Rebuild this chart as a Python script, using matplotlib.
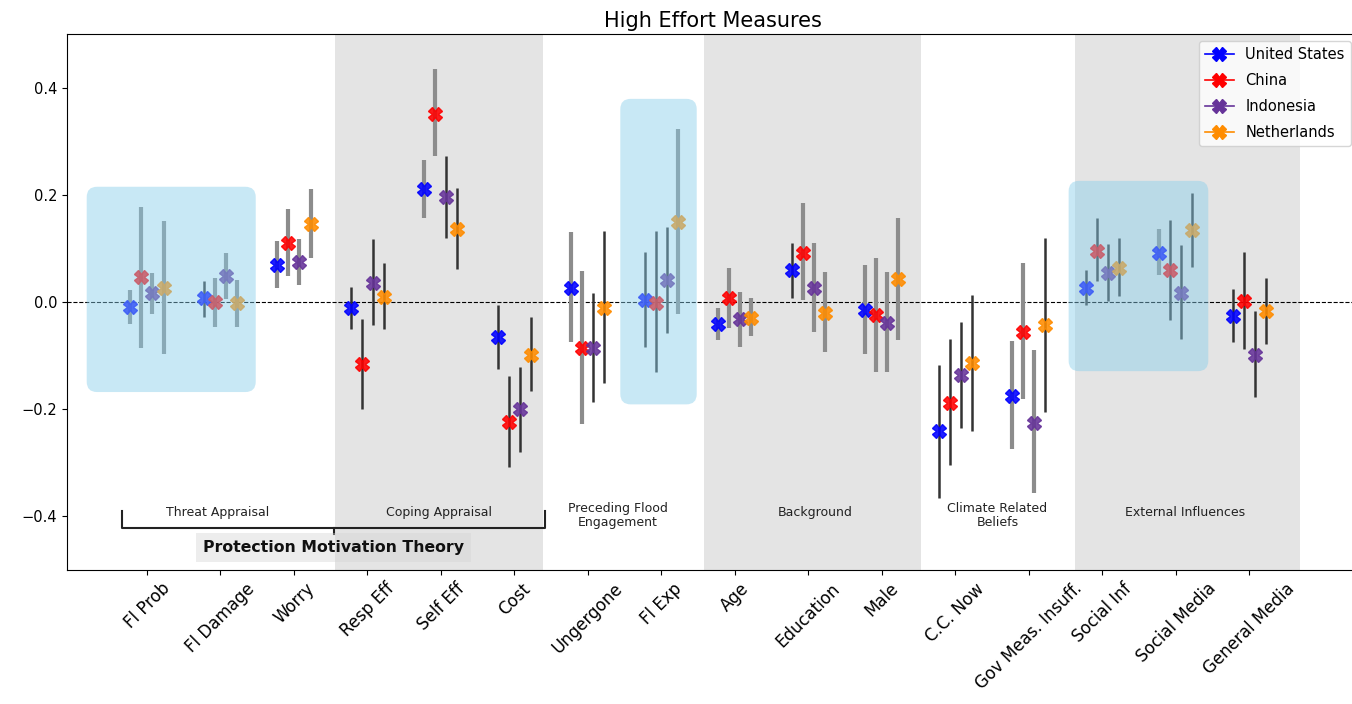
import matplotlib
matplotlib.use("Agg")
import matplotlib.pyplot as plt
from matplotlib.lines import Line2D
from matplotlib.patches import FancyBboxPatch
import numpy as np

# ---- data ----
variables = ["Fl Prob", "Fl Damage", "Worry", "Resp Eff", "Self Eff", "Cost",
             "Ungergone", "Fl Exp", "Age", "Education", "Male", "C.C. Now",
             "Gov Meas. Insuff.", "Social Inf", "Social Media", "General Media"]
countries = ["United States", "China", "Indonesia", "Netherlands"]

# point estimates, one list per country
est_us = [-0.009, 0.007, 0.069, -0.011, 0.211, -0.065, 0.026, 0.004,
          -0.041, 0.060, -0.015, -0.241, -0.176, 0.026, 0.092, -0.026]
est_cn = [0.047, 0.000, 0.110, -0.116, 0.351, -0.224, -0.086, -0.002,
          0.008, 0.092, -0.024, -0.189, -0.056, 0.095, 0.060, 0.002]
est_id = [0.017, 0.049, 0.075, 0.036, 0.196, -0.200, -0.086, 0.041,
          -0.032, 0.026, -0.039, -0.136, -0.226, 0.054, 0.017, -0.098]
est_nl = [0.026, -0.002, 0.145, 0.009, 0.136, -0.098, -0.011, 0.150,
          -0.029, -0.020, 0.043, -0.114, -0.043, 0.064, 0.134, -0.017]

# interval bounds
lo_us = [-0.041, -0.028, 0.026, -0.050, 0.157, -0.125, -0.075, -0.084,
         -0.071, 0.008, -0.097, -0.366, -0.275, -0.006, 0.050, -0.075]
hi_us = [0.022, 0.039, 0.114, 0.028, 0.265, -0.006, 0.131, 0.093,
         -0.011, 0.110, 0.069, -0.118, -0.073, 0.060, 0.136, 0.024]
lo_cn = [-0.086, -0.047, 0.049, -0.200, 0.273, -0.308, -0.228, -0.130,
         -0.048, 0.004, -0.130, -0.305, -0.181, 0.039, -0.034, -0.088]
hi_cn = [0.178, 0.045, 0.174, -0.032, 0.434, -0.138, 0.058, 0.133,
         0.064, 0.185, 0.082, -0.069, 0.073, 0.157, 0.153, 0.093]
lo_id = [-0.022, 0.006, 0.032, -0.043, 0.120, -0.279, -0.187, -0.058,
         -0.084, -0.056, -0.130, -0.235, -0.357, 0.002, -0.069, -0.178]
hi_id = [0.054, 0.092, 0.118, 0.118, 0.273, -0.121, 0.017, 0.140,
         0.019, 0.110, 0.056, -0.037, -0.090, 0.108, 0.107, -0.017]
lo_nl = [-0.097, -0.047, 0.082, -0.050, 0.062, -0.166, -0.151, -0.022,
         -0.063, -0.093, -0.071, -0.240, -0.206, 0.011, 0.065, -0.078]
hi_nl = [0.151, 0.041, 0.210, 0.073, 0.213, -0.028, 0.133, 0.323,
         0.007, 0.056, 0.157, 0.013, 0.120, 0.120, 0.204, 0.045]

# which intervals are drawn as the thin dark kind (1) vs the wide grey kind (0)
dark_us = [0, 1, 0, 1, 0, 1, 0, 1, 0, 1, 0, 1, 0, 1, 0, 1]
dark_cn = [0, 0, 0, 1, 0, 1, 0, 1, 0, 0, 0, 1, 0, 1, 1, 1]
dark_id = [0, 0, 0, 1, 1, 1, 1, 1, 0, 0, 0, 1, 0, 1, 1, 1]
dark_nl = [0, 0, 0, 1, 1, 1, 1, 0, 0, 0, 0, 1, 1, 1, 1, 1]

group_names = ["Threat Appraisal", "Coping Appraisal", "Preceding Flood\nEngagement",
               "Background", "Climate Related\nBeliefs", "External Influences"]

# ---- styling ----
COLORS = ["blue", "red", "rebeccapurple", "darkorange"]
OFFSETS = [-0.225, -0.075, 0.075, 0.225]
SHADE = "#e4e4e4"

estimates = [est_us, est_cn, est_id, est_nl]
lows = [lo_us, lo_cn, lo_id, lo_nl]
highs = [hi_us, hi_cn, hi_id, hi_nl]
darks = [dark_us, dark_cn, dark_id, dark_nl]

fig = plt.figure(figsize=(13.52, 7.04), dpi=100)
ax = fig.add_axes([67 / 1352, 1 - 570 / 704, (1358 - 67) / 1352, 536 / 704])

x = np.arange(len(variables))

# grey background bands for alternating groups
for a, b in [(2.56, 5.39), (7.58, 10.53), (12.63, 15.69)]:
    ax.axvspan(a, b, color=SHADE, zorder=0, lw=0)

ax.axhline(0, color="black", ls="--", lw=0.8, zorder=1)

for est, lo, hi, dk, col, off in zip(estimates, lows, highs, darks, COLORS, OFFSETS):
    est, lo, hi, dk = map(np.asarray, (est, lo, hi, dk))
    xs = x + off
    grey = dk == 0
    ax.vlines(xs[grey], lo[grey], hi[grey], color="#8c8c8c", lw=3.0, zorder=2)
    ax.vlines(xs[~grey], lo[~grey], hi[~grey], color="#333333", lw=1.8, zorder=2)
    ax.plot(xs, est, "X", color=col, ms=10, alpha=0.88, zorder=3)

# highlighted light-blue boxes (drawn over the marks)
px_x, px_y = 73.5, 535.0
for (x0, x1, y0, y1) in [(-0.82, 1.48, -0.168, 0.215),
                         (6.44, 7.48, -0.191, 0.379),
                         (12.54, 14.44, -0.129, 0.226)]:
    box = FancyBboxPatch((x0, y0), x1 - x0, y1 - y0,
                         boxstyle="round,pad=0,rounding_size=0.14",
                         mutation_aspect=px_x / px_y,
                         facecolor="skyblue", edgecolor="none", alpha=0.45, zorder=4)
    ax.add_patch(box)

# group labels
for name, gx, gy in zip(group_names,
                        [0.96, 3.97, 6.41, 9.09, 11.57, 14.12],
                        [-0.393, -0.393, -0.398, -0.393, -0.398, -0.393]):
    ax.text(gx, gy, name, ha="center", va="center", fontsize=9, color="#222222",
            linespacing=1.05, zorder=5)

# bracket for Protection Motivation Theory
bx0, bx1, bmid = -0.34, 5.41, 2.54
ax.plot([bx0, bx0, bx1, bx1], [-0.389, -0.422, -0.422, -0.389],
        color="#222222", lw=1.5, zorder=5)
ax.plot([bmid, bmid], [-0.422, -0.432], color="#222222", lw=1.5, zorder=5)
ax.text(bmid, -0.458, "Protection Motivation Theory", ha="center", va="center",
        fontsize=11.3, fontweight="bold", color="#111111", zorder=5,
        bbox=dict(boxstyle="square,pad=0.45", facecolor="lightgray",
                  edgecolor="none", alpha=0.4))

ax.set_xlim(-1.088, 16.477)
ax.set_ylim(-0.5, 0.5)
ax.set_yticks([-0.4, -0.2, 0.0, 0.2, 0.4])
ax.tick_params(axis="y", labelsize=10.5)
ax.set_xticks(x)
ax.set_xticklabels(variables, rotation=45, fontsize=12)
ax.set_title("High Effort Measures", fontsize=15, pad=5)

handles = [Line2D([], [], color=c, marker="X", ms=10, lw=1.2) for c in COLORS]
ax.legend(handles, countries, loc="upper right", fontsize=10.5, framealpha=0.8,
          labelspacing=0.75)

fig.savefig("out.png", dpi=100)
